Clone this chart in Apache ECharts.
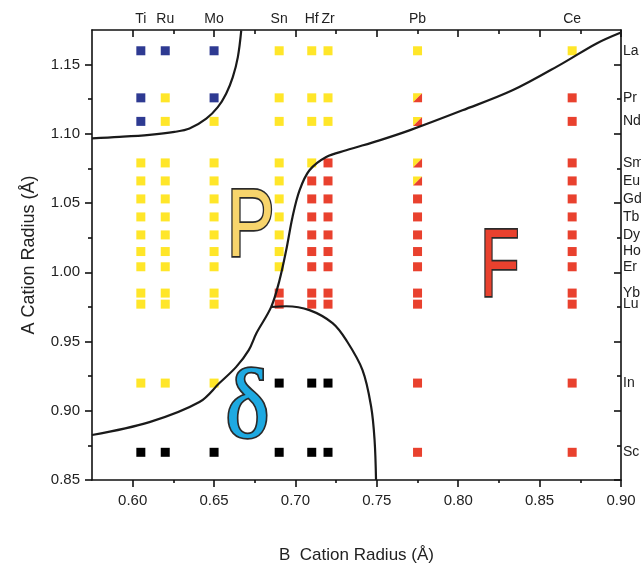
<!DOCTYPE html>
<html>
<head>
<meta charset="utf-8">
<script src="https://cdn.jsdelivr.net/npm/echarts@6/dist/echarts.min.js"></script>
<style>html,body{margin:0;padding:0;background:#fff}#c{width:641px;height:568px}</style>
</head>
<body>
<div id="c"></div>
<script>
// ---- data ----
const bCations = ['Ti','Ru','Mo','Sn','Hf','Zr','Pb','Ce'];
const bRadii   = [0.605,0.62,0.65,0.69,0.71,0.72,0.775,0.87];
const aCations = ['La','Pr','Nd','Sm','Eu','Gd','Tb','Dy','Ho','Er','Yb','Lu','In','Sc'];
const aRadii   = [1.160,1.126,1.109,1.079,1.066,1.053,1.040,1.027,1.015,1.004,0.985,0.977,0.920,0.870];
// phase per A row (columns follow bCations): B=blue, Y=pyrochlore, R=fluorite, K=delta, S=mixed
const phaseRows = [
  'BBBYYYYY', // La
  'BYBYYYSR', // Pr
  'BYYYYYSR', // Nd
  'YYYYYRSR', // Sm
  'YYYYRRSR', // Eu
  'YYYYRRRR', // Gd
  'YYYYRRRR', // Tb
  'YYYYRRRR', // Dy
  'YYYYRRRR', // Ho
  'YYYYRRRR', // Er
  'YYYRRRRR', // Yb
  'YYYRRRRR', // Lu
  'YYYKKKRR', // In
  'KKKKKKRR'  // Sc
];
// phase boundaries (B radius, A radius)
const boundaryUpperLeft = [[0.575,1.0968],[0.5919,1.0978],[0.6103,1.0993],[0.6257,1.1014],[0.6349,1.1038],[0.6452,1.1110],[0.6523,1.1193],[0.6574,1.1290],[0.6615,1.1410],[0.6646,1.1554],[0.6667,1.1747]];
const boundaryPF = [[0.575,0.8825],[0.6103,0.8918],[0.6410,0.9063],[0.6533,0.9200],[0.6636,0.9317],[0.6713,0.9438],[0.6760,0.9560],[0.6851,0.9750],[0.6902,0.9943],[0.6943,1.0159],[0.6982,1.0400],[0.7025,1.0592],[0.7086,1.0737],[0.7189,1.0833],[0.7312,1.0881],[0.7516,1.0953],[0.7700,1.1025],[0.8026,1.1170],[0.8333,1.1314],[0.8641,1.1509],[0.8850,1.1653],[0.9000,1.1732]];
const boundaryDelta = [[0.6851,0.9750],[0.6943,0.9755],[0.7086,0.9727],[0.7228,0.9633],[0.7312,0.9510],[0.7412,0.9294],[0.7465,0.9029],[0.7486,0.8789],[0.7495,0.85]];
const phaseLetters = ['P','F','δ'];
const phaseLetterX = [0.6725,0.8255,0.6705];
const phaseLetterY = [1.031,1.002,0.900];
const xTicks = [0.60,0.65,0.70,0.75,0.80,0.85,0.90];
const xMinorTicks = [0.625,0.675,0.725,0.775,0.825,0.875];
const yTicks = [0.85,0.90,0.95,1.00,1.05,1.10,1.15];
const yMinorTicks = [0.875,0.925,0.975,1.025,1.075,1.125];

// ---- build ----
const XMIN=0.575, XMAX=0.90, YMIN=0.85, YMAX=1.175;
const colors = {B:'#2e3a92', Y:'#ffe629', R:'#e9412e', K:'#000000'};
const groups = {B:[],Y:[],R:[],K:[],S:[]};
phaseRows.forEach((row,i)=>{
  row.split('').forEach((c,j)=>{ if(groups[c]) groups[c].push([bRadii[j], aRadii[i]]); });
});
const SQ = 9;
const series = [];
['B','Y','R','K'].forEach(k=>{
  series.push({type:'scatter', xAxisIndex:0, yAxisIndex:0, symbol:'rect', symbolSize:SQ,
    itemStyle:{color:colors[k], opacity:1}, data:groups[k], z:3});
});
series.push({type:'scatter', xAxisIndex:0, yAxisIndex:0, symbol:'path://M0,0 L10,0 L0,10 Z', symbolSize:SQ,
  itemStyle:{color:colors.Y, opacity:1}, data:groups.S, z:3});
series.push({type:'scatter', xAxisIndex:0, yAxisIndex:0, symbol:'path://M10,0 L10,10 L0,10 Z', symbolSize:SQ,
  itemStyle:{color:colors.R, opacity:1}, data:groups.S, z:3});
[boundaryUpperLeft, boundaryPF, boundaryDelta].forEach(d=>{
  series.push({type:'line', xAxisIndex:0, yAxisIndex:0, data:d, smooth:0.35, showSymbol:false, symbol:'none',
    lineStyle:{color:'#1a1a1a', width:2.2}, z:5});
});

const lineStyle = {color:'#111', width:1.6};
const lblFont = {color:'#222', fontFamily:'Liberation Sans', fontSize:15};
function nameOf(list, vals, v){ for(let i=0;i<vals.length;i++){ if(Math.abs(vals[i]-v)<1e-6) return list[i]; } return ''; }

const option = {
  animation:false,
  backgroundColor:'#fff',
  grid:{left:92, right:20, top:30, bottom:88, containLabel:false, outerBoundsMode:'none'},
  xAxis:[
    {type:'value', min:XMIN, max:XMAX, position:'bottom', splitLine:{show:false},
     axisLine:{show:true, onZero:false, lineStyle},
     axisTick:{show:true, inside:false, length:7, customValues:xTicks, lineStyle},
     axisLabel:Object.assign({show:true, margin:13, customValues:xTicks, formatter:v=>v.toFixed(2)}, lblFont),
     name:'B  Cation Radius (Å)', nameLocation:'middle', nameGap:67,
     nameTextStyle:{color:'#222', fontFamily:'Liberation Sans', fontSize:17}},
    {type:'value', min:XMIN, max:XMAX, position:'bottom', splitLine:{show:false},
     axisLine:{show:false, onZero:false}, axisTick:{show:true, length:3, customValues:xMinorTicks, lineStyle}, axisLabel:{show:false}},
    {type:'value', min:XMIN, max:XMAX, position:'top', splitLine:{show:false},
     axisLine:{show:true, onZero:false, lineStyle},
     axisTick:{show:true, inside:true, length:7, customValues:xTicks, lineStyle},
     axisLabel:Object.assign({show:true, margin:4, customValues:bRadii, formatter:v=>nameOf(bCations,bRadii,v)}, lblFont, {fontSize:14})},
    {type:'value', min:XMIN, max:XMAX, position:'top', splitLine:{show:false},
     axisLine:{show:false, onZero:false}, axisTick:{show:true, inside:true, length:4, customValues:xMinorTicks, lineStyle}, axisLabel:{show:false}}
  ],
  yAxis:[
    {type:'value', min:YMIN, max:YMAX, position:'left', splitLine:{show:false},
     axisLine:{show:true, onZero:false, lineStyle},
     axisTick:{show:true, inside:false, length:7, customValues:yTicks, lineStyle},
     axisLabel:Object.assign({show:true, margin:12, customValues:yTicks, formatter:v=>v.toFixed(2)}, lblFont),
     name:'A Cation Radius (Å)', nameLocation:'middle', nameGap:54,
     nameTextStyle:{color:'#222', fontFamily:'Liberation Sans', fontSize:18}},
    {type:'value', min:YMIN, max:YMAX, position:'left', splitLine:{show:false},
     axisLine:{show:false, onZero:false}, axisTick:{show:true, length:4, customValues:yMinorTicks, lineStyle}, axisLabel:{show:false}},
    {type:'value', min:YMIN, max:YMAX, position:'right', splitLine:{show:false},
     axisLine:{show:true, onZero:false, lineStyle},
     axisTick:{show:true, inside:true, length:7, customValues:yTicks, lineStyle},
     axisLabel:Object.assign({show:true, margin:2, customValues:aRadii, formatter:v=>nameOf(aCations,aRadii,v)}, lblFont, {fontSize:14})},
    {type:'value', min:YMIN, max:YMAX, position:'right', splitLine:{show:false},
     axisLine:{show:false, onZero:false}, axisTick:{show:true, inside:true, length:4, customValues:yMinorTicks, lineStyle}, axisLabel:{show:false}}
  ],
  series
};
const chart = echarts.init(document.getElementById('c'), null, {renderer:'canvas'});
chart.setOption(option);

// phase-region letters, positioned from data coordinates
const letterStyles = [
  {fill:'#f7d46c', font:'normal 97px "Liberation Sans"', scaleX:0.74},
  {fill:'#e9412e', font:'normal 97px "Liberation Sans"', scaleX:0.66},
  {fill:'#1ea9e1', font:'normal 98px "Liberation Serif"', scaleX:0.95}
];
const graphics = phaseLetters.map((t,i)=>{
  const p = chart.convertToPixel({xAxisIndex:0, yAxisIndex:0}, [phaseLetterX[i], phaseLetterY[i]]);
  const s = letterStyles[i];
  return {type:'text', x:p[0], y:p[1], scaleX:s.scaleX, z:10, silent:true,
    style:{text:t, font:s.font, fill:s.fill, stroke:'#2a2a2a', lineWidth:3.5, strokeFirst:true,
      align:'center', verticalAlign:'middle'}};
});
chart.setOption({graphic:graphics});
</script>
</body>
</html>
